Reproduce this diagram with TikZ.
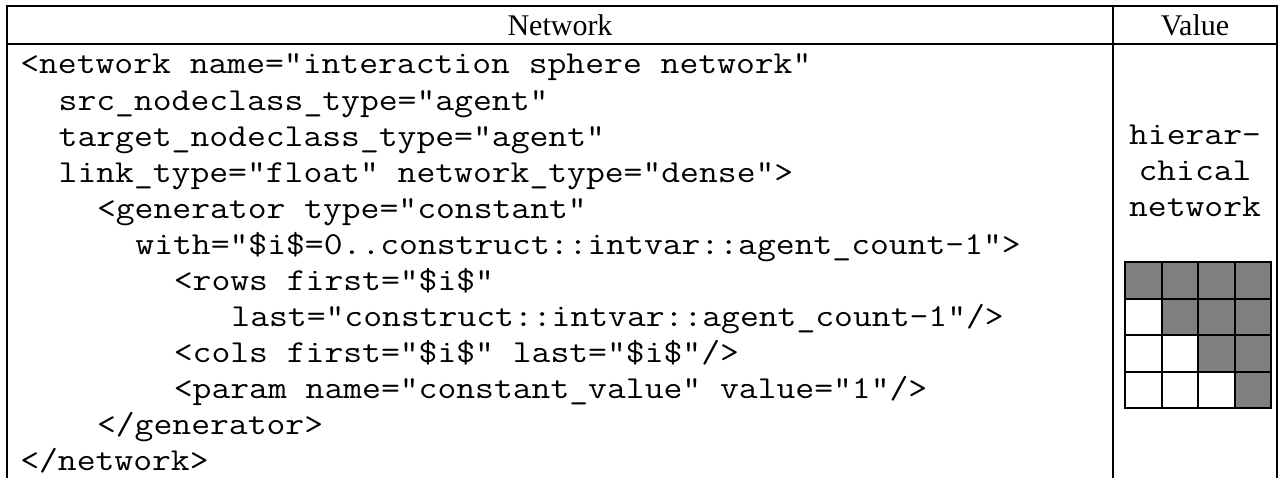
\documentclass[tikz,border=0pt]{standalone}
\usepackage{fontspec}
\setmainfont{Liberation Serif}
\setmonofont{Latin Modern Mono}[FakeStretch=1.143]
\usetikzlibrary{positioning}
\tikzset{
  rule/.style={line width=1.5pt,black},
  hdr/.style={font=\fontsize{22.5}{26}\selectfont,inner sep=0pt},
  code/.style={font=\ttfamily\fontsize{24}{28}\selectfont,inner sep=0pt,
    anchor=base west},
  valtxt/.style={font=\ttfamily\fontsize{24}{28}\selectfont,inner sep=0pt,
    anchor=base},
  cellon/.style={fill=black!50},
  cellrule/.style={line width=1.5pt,black},
}

\begin{document}
\begin{tikzpicture}[x=0.75pt,y=-0.75pt]
  \useasboundingbox (0,0) rectangle (1281,478);
  % table rules
  \draw[rule] (7,478) -- (7,6.5) -- (1277,6.5) -- (1277,478);
  \draw[rule] (7,44) -- (1277,44);
  \draw[rule] (1113,6.5) -- (1113,478);
  % header
  \node[hdr] (nethdr) at (560,25) {Network};
  \node[hdr] (valhdr) at (1195,25) {Value};
  % code lines
  \node[code] (ln1) at (20,74) {<network name="interaction sphere network"};
  \node[code] (ln2) at (58.4,110) {src\_nodeclass\_type="agent"};
  \node[code] (ln3) at (58.4,146) {target\_nodeclass\_type="agent"};
  \node[code] (ln4) at (58.4,182) {link\_type="float" network\_type="dense">};
  \node[code] (ln5) at (96.8,218) {<generator type="constant"};
  \node[code] (ln6) at (135.2,254) {with="\$i\$=0..construct::intvar::agent\_count-1">};
  \node[code] (ln7) at (173.6,290) {<rows first="\$i\$"};
  \node[code] (ln8) at (231.2,326) {last="construct::intvar::agent\_count-1"/>};
  \node[code] (ln9) at (173.6,362) {<cols first="\$i\$" last="\$i\$"/>};
  \node[code] (ln10) at (173.6,398) {<param name="constant\_value" value="1"/>};
  \node[code] (ln11) at (96.8,434) {</generator>};
  \node[code] (ln12) at (20,470) {</network>};
  % value column
  \node[valtxt] (v1) at (1195,144) {hierar-};
  \node[valtxt] (v2) at (1195,180) {chical};
  \node[valtxt] (v3) at (1195,216) {network};
  % matrix pattern
  \foreach \r in {0,...,3}
    \foreach \c in {\r,...,3}
      \fill[cellon] ({1125+36.5*\c},{262+36.5*\r}) rectangle +(36.5,36.5);
  \foreach \r in {0,...,3}
    \foreach \c in {0,...,3}
      \draw[cellrule] ({1125+36.5*\c},{262+36.5*\r}) rectangle +(36.5,36.5);
\end{tikzpicture}
\end{document}
